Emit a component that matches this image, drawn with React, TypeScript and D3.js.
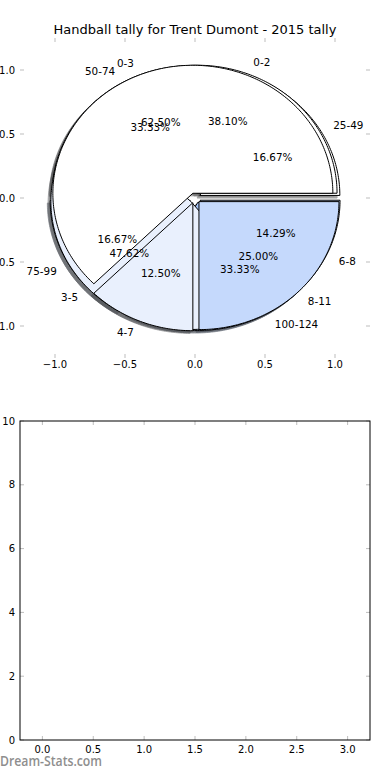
import { useEffect, useRef } from "react";
import * as d3 from "d3";

// three pies share one axes, drawn in this order (last one ends up on top)
const ageLabels = ["25-49", "50-74", "75-99", "100-124"];
const ageValues = [1, 2, 1, 2];
const goalLabels = ["0-2", "3-5", "6-8"];
const goalValues = [8, 10, 3];
const pointLabels = ["0-3", "4-7", "8-11"];
const pointValues = [5, 1, 2];

const wedgeColors = ["#ffffff", "#e9f0fd", "#c5d9fc", "#a4c3f6"];
const explode = 0.04;

const pieTicks = [-1, -0.5, 0, 0.5, 1];
const emptyXTicks = [0, 0.5, 1, 1.5, 2, 2.5, 3];
const emptyYTicks = [0, 2, 4, 6, 8, 10];

const title = "Handball tally for Trent Dumont - 2015 tally";
const FONT = "'DejaVu Sans', sans-serif";

export default function App() {
  const svgRef = useRef<SVGSVGElement | null>(null);

  useEffect(() => {
    if (!svgRef.current) return;
    const svg = d3.select(svgRef.current);
    svg.selectAll("*").remove();

    const top = { left: 20, right: 370, top: 38, bottom: 358 };
    const bot = { left: 20, right: 370, top: 421, bottom: 740 };
    const tickColor = "#bdbdbd";

    const xScale = d3.scaleLinear().domain([-1.25, 1.25]).range([top.left, top.right]);
    const yScale = d3.scaleLinear().domain([-1.25, 1.25]).range([top.bottom, top.top]);

    svg
      .append("text")
      .attr("x", (top.left + top.right) / 2)
      .attr("y", 34)
      .attr("text-anchor", "middle")
      .attr("font-family", FONT)
      .attr("font-size", 13)
      .text(title);

    // pie axes: frame off, only inward ticks
    const tg = svg.append("g").attr("stroke", tickColor).attr("stroke-width", 1);
    pieTicks.forEach((t) => {
      tg.append("line").attr("x1", xScale(t)).attr("x2", xScale(t)).attr("y1", top.top).attr("y2", top.top + 4);
      tg.append("line").attr("x1", xScale(t)).attr("x2", xScale(t)).attr("y1", top.bottom).attr("y2", top.bottom - 4);
      tg.append("line").attr("y1", yScale(t)).attr("y2", yScale(t)).attr("x1", top.left).attr("x2", top.left + 4);
      tg.append("line").attr("y1", yScale(t)).attr("y2", yScale(t)).attr("x1", top.right).attr("x2", top.right - 4);
    });
    const tickFmt = (v: number) => d3.format(".1f")(v).replace("-", "\u2212");
    pieTicks.forEach((t) => {
      svg
        .append("text")
        .attr("x", xScale(t))
        .attr("y", 368)
        .attr("text-anchor", "middle")
        .attr("font-family", FONT)
        .attr("font-size", 10)
        .text(tickFmt(t));
      svg
        .append("text")
        .attr("x", 15)
        .attr("y", yScale(t))
        .attr("dy", "0.35em")
        .attr("text-anchor", "end")
        .attr("font-family", FONT)
        .attr("font-size", 10)
        .text(tickFmt(t));
    });

    const pies = [
      { labels: ageLabels, values: ageValues },
      { labels: goalLabels, values: goalValues },
      { labels: pointLabels, values: pointValues },
    ];

    const layout = d3.pie<number>().sort(null).startAngle(0).endAngle(2 * Math.PI);
    const line = d3
      .line<[number, number]>()
      .x((d) => xScale(d[0]))
      .y((d) => yScale(d[1]))
      .curve(d3.curveLinearClosed);

    const wedges: { path: string; color: string }[] = [];
    const texts: { x: number; y: number; anchor: string; text: string }[] = [];

    pies.forEach((p) => {
      const total = d3.sum(p.values);
      layout(p.values).forEach((a, i) => {
        const mid = (a.startAngle + a.endAngle) / 2;
        const cx = explode * Math.cos(mid);
        const cy = explode * Math.sin(mid);
        const pts: [number, number][] = [[cx, cy]];
        const steps = Math.max(2, Math.ceil(((a.endAngle - a.startAngle) * 180) / Math.PI));
        for (let k = 0; k <= steps; k++) {
          const th = a.startAngle + ((a.endAngle - a.startAngle) * k) / steps;
          pts.push([cx + Math.cos(th), cy + Math.sin(th)]);
        }
        wedges.push({ path: line(pts) as string, color: wedgeColors[i % wedgeColors.length] });

        const lx = cx + 1.1 * Math.cos(mid);
        const ly = cy + 1.1 * Math.sin(mid);
        texts.push({ x: lx, y: ly, anchor: lx > 0 ? "start" : "end", text: p.labels[i] });
        texts.push({
          x: cx + 0.6 * Math.cos(mid),
          y: cy + 0.6 * Math.sin(mid),
          anchor: "middle",
          text: d3.format(".2f")((p.values[i] / total) * 100) + "%",
        });
      });
    });

    // shadows sit under every wedge
    const dx = xScale(-0.02) - xScale(0);
    const dy = yScale(-0.02) - yScale(0);
    const shadowG = svg.append("g").attr("transform", `translate(${dx},${dy})`);
    wedges.forEach((w) => {
      const c = d3.rgb(w.color);
      const s = d3.rgb(c.r * 0.3, c.g * 0.3, c.b * 0.3).toString();
      shadowG
        .append("path")
        .attr("d", w.path)
        .attr("fill", s)
        .attr("stroke", s)
        .attr("opacity", 0.5);
    });

    const wedgeG = svg.append("g");
    wedges.forEach((w) => {
      wedgeG
        .append("path")
        .attr("d", w.path)
        .attr("fill", w.color)
        .attr("stroke", "#000")
        .attr("stroke-width", 1);
    });

    texts.forEach((t) => {
      svg
        .append("text")
        .attr("x", xScale(t.x))
        .attr("y", yScale(t.y))
        .attr("dy", "0.35em")
        .attr("text-anchor", t.anchor)
        .attr("font-family", FONT)
        .attr("font-size", 10.4)
        .text(t.text);
    });

    // empty second axes
    const bx = d3.scaleLinear().domain([-0.22, 3.22]).range([bot.left, bot.right]);
    const by = d3.scaleLinear().domain([0, 10]).range([bot.bottom, bot.top]);

    const bt = svg.append("g").attr("stroke", tickColor).attr("stroke-width", 1);
    emptyXTicks.forEach((t) => {
      bt.append("line").attr("x1", bx(t)).attr("x2", bx(t)).attr("y1", bot.top).attr("y2", bot.top + 4);
      bt.append("line").attr("x1", bx(t)).attr("x2", bx(t)).attr("y1", bot.bottom).attr("y2", bot.bottom - 4);
      svg
        .append("text")
        .attr("x", bx(t))
        .attr("y", 753)
        .attr("text-anchor", "middle")
        .attr("font-family", FONT)
        .attr("font-size", 10)
        .text(d3.format(".1f")(t));
    });
    emptyYTicks.forEach((t) => {
      bt.append("line").attr("y1", by(t)).attr("y2", by(t)).attr("x1", bot.left).attr("x2", bot.left + 4);
      bt.append("line").attr("y1", by(t)).attr("y2", by(t)).attr("x1", bot.right).attr("x2", bot.right - 4);
      svg
        .append("text")
        .attr("x", 15)
        .attr("y", by(t))
        .attr("dy", "0.35em")
        .attr("text-anchor", "end")
        .attr("font-family", FONT)
        .attr("font-size", 10)
        .text(String(t));
    });

    svg
      .append("rect")
      .attr("x", bot.left)
      .attr("y", bot.top)
      .attr("width", bot.right - bot.left)
      .attr("height", bot.bottom - bot.top)
      .attr("fill", "none")
      .attr("stroke", "#000")
      .attr("stroke-width", 1);

    svg
      .append("text")
      .attr("x", 0)
      .attr("y", 766)
      .attr("font-family", "'Open Sans', sans-serif")
      .attr("font-size", 14)
      .attr("font-weight", 600)
      .attr("fill", "#8e8e8e")
      .attr("textLength", 102)
      .attr("lengthAdjust", "spacingAndGlyphs")
      .text("Dream-Stats.com");
  }, []);

  return (
    <svg
      ref={svgRef}
      width={390}
      height={780}
      style={{ position: "absolute", left: 0, top: 0, background: "#fff" }}
    ></svg>
  );
}
